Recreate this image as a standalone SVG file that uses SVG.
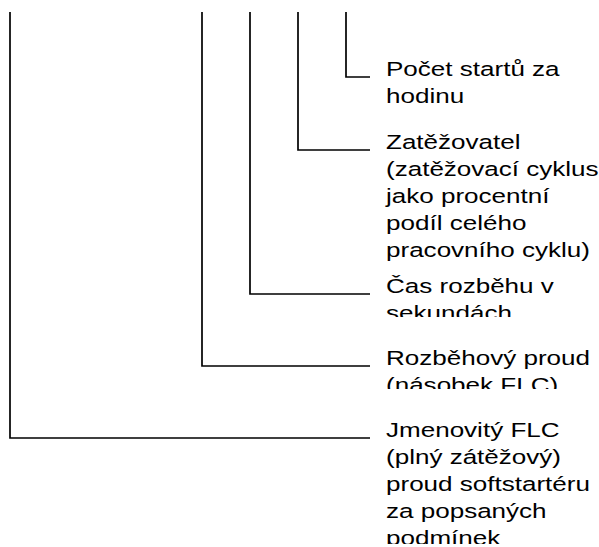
<svg xmlns="http://www.w3.org/2000/svg" width="599" height="547" viewBox="0 0 599 547">
  <style>
    .lead { fill: none; stroke: #000; stroke-width: 1.7; }
    .lbl { font-family: "Liberation Sans", Arial, sans-serif; font-size: 20.5px; fill: #000; }
  </style>
  <defs>
    <clipPath id="clipC"><rect x="380" y="270" width="219" height="47"/></clipPath>
    <clipPath id="clipD"><rect x="380" y="340" width="219" height="49"/></clipPath>
    <clipPath id="clipE"><rect x="380" y="410" width="219" height="134"/></clipPath>
  </defs>
  <rect width="599" height="547" fill="#fff"/>

  <!-- leader lines from the type code down to each field description -->
  <g id="connectors">
    <path class="lead" d="M346 12 V77 H370"/>
    <path class="lead" d="M298 12 V150 H370"/>
    <path class="lead" d="M250 12 V294 H370"/>
    <path class="lead" d="M202 12 V366 H370"/>
    <path class="lead" d="M10 12 V438 H370"/>
  </g>

  <g id="starts-per-hour" transform="translate(386 0) scale(1.27 1)">
    <text class="lbl" x="0" y="76">Počet startů za</text>
    <text class="lbl" x="0" y="103">hodinu</text>
  </g>

  <g id="duty-cycle" transform="translate(386 0) scale(1.27 1)">
    <text class="lbl" x="0" y="149">Zatěžovatel</text>
    <text class="lbl" x="0" y="176">(zatěžovací cyklus</text>
    <text class="lbl" x="0" y="203">jako procentní</text>
    <text class="lbl" x="0" y="230">podíl celého</text>
    <text class="lbl" x="0" y="257">pracovního cyklu)</text>
  </g>

  <g id="start-time" clip-path="url(#clipC)">
    <g transform="translate(386 0) scale(1.27 1)">
      <text class="lbl" x="0" y="293">Čas rozběhu v</text>
      <text class="lbl" x="0" y="320">sekundách</text>
    </g>
  </g>

  <g id="start-current" clip-path="url(#clipD)">
    <g transform="translate(386 0) scale(1.27 1)">
      <text class="lbl" x="0" y="365">Rozběhový proud</text>
      <text class="lbl" x="0" y="392">(násobek FLC)</text>
    </g>
  </g>

  <g id="rated-flc" clip-path="url(#clipE)">
    <g transform="translate(386 0) scale(1.27 1)">
      <text class="lbl" x="0" y="437">Jmenovitý FLC</text>
      <text class="lbl" x="0" y="464">(plný zátěžový)</text>
      <text class="lbl" x="0" y="491">proud softstartéru</text>
      <text class="lbl" x="0" y="518">za popsaných</text>
      <text class="lbl" x="0" y="545">podmínek</text>
    </g>
  </g>
</svg>
